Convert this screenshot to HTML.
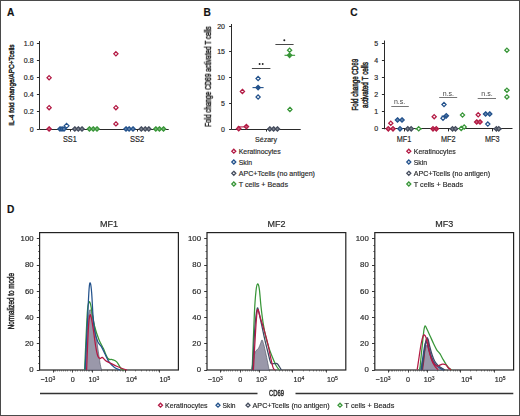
<!DOCTYPE html>
<html><head><meta charset="utf-8"><style>
html,body{margin:0;padding:0;background:#fff;}
svg{display:block;font-family:"Liberation Sans", sans-serif;filter:blur(0.35px);}
text{stroke:#2a2a2a;stroke-width:0.18px;}
text.yl{stroke-width:0.5px;}
</style></head><body>
<svg width="520" height="416" viewBox="0 0 520 416">
<rect x="0.5" y="0.5" width="519" height="415" fill="#fff" stroke="#4a4a4a" stroke-width="1"/>
<text x="7" y="16.1" font-size="10.2" text-anchor="start" fill="#111" font-weight="bold" >A</text>
<text x="203.6" y="16.1" font-size="10.2" text-anchor="start" fill="#111" font-weight="bold" >B</text>
<text x="350.3" y="16.1" font-size="10.2" text-anchor="start" fill="#111" font-weight="bold" >C</text>
<text x="7" y="213.0" font-size="10.2" text-anchor="start" fill="#111" font-weight="bold" >D</text>
<line x1="39.5" y1="41" x2="39.5" y2="129.5" stroke="#2a2a2a" stroke-width="1"/>
<line x1="39.5" y1="129.5" x2="168.7" y2="129.5" stroke="#2a2a2a" stroke-width="1"/>
<line x1="36.9" y1="129.5" x2="39.5" y2="129.5" stroke="#2a2a2a" stroke-width="1"/>
<text x="33.6" y="131.5" font-size="7" text-anchor="end" fill="#2a2a2a" font-weight="normal" >0</text>
<line x1="36.9" y1="111.5" x2="39.5" y2="111.5" stroke="#2a2a2a" stroke-width="1"/>
<text x="33.6" y="114.42" font-size="7" text-anchor="end" fill="#2a2a2a" font-weight="normal" >0.2</text>
<line x1="36.9" y1="94.5" x2="39.5" y2="94.5" stroke="#2a2a2a" stroke-width="1"/>
<text x="33.6" y="97.34" font-size="7" text-anchor="end" fill="#2a2a2a" font-weight="normal" >0.4</text>
<line x1="36.9" y1="77.5" x2="39.5" y2="77.5" stroke="#2a2a2a" stroke-width="1"/>
<text x="33.6" y="80.25999999999999" font-size="7" text-anchor="end" fill="#2a2a2a" font-weight="normal" >0.6</text>
<line x1="36.9" y1="60.5" x2="39.5" y2="60.5" stroke="#2a2a2a" stroke-width="1"/>
<text x="33.6" y="63.17999999999999" font-size="7" text-anchor="end" fill="#2a2a2a" font-weight="normal" >0.8</text>
<line x1="36.9" y1="43.5" x2="39.5" y2="43.5" stroke="#2a2a2a" stroke-width="1"/>
<text x="33.6" y="46.099999999999994" font-size="7" text-anchor="end" fill="#2a2a2a" font-weight="normal" >1.0</text>
<line x1="70.5" y1="129" x2="70.5" y2="131.5" stroke="#2a2a2a" stroke-width="1"/>
<line x1="137.5" y1="129" x2="137.5" y2="131.5" stroke="#2a2a2a" stroke-width="1"/>
<text x="69.8" y="141.9" font-size="8.2" text-anchor="middle" fill="#2a2a2a" font-weight="normal" textLength="13.8" lengthAdjust="spacingAndGlyphs">SS1</text>
<text x="137.2" y="141.9" font-size="8.2" text-anchor="middle" fill="#2a2a2a" font-weight="normal" textLength="14.2" lengthAdjust="spacingAndGlyphs">SS2</text>
<text transform="translate(13.9,85.1) rotate(-90)" class="yl" x="0" y="0" font-size="7.9" text-anchor="middle" fill="#2a2a2a" textLength="81.2" lengthAdjust="spacingAndGlyphs">IL-4 fold change/APC+Tcells</text>
<path d="M49.10 75.66L51.20 77.76L49.10 79.86L47.00 77.76Z" fill="#fff" stroke="#b31a44" stroke-width="1.25"/>
<path d="M49.10 105.55L51.20 107.65L49.10 109.75L47.00 107.65Z" fill="#fff" stroke="#b31a44" stroke-width="1.25"/>
<path d="M49.10 126.80L51.30 129.00L49.10 131.20L46.90 129.00Z" fill="#c95e7c" stroke="#b31a44" stroke-width="1.25"/>
<path d="M60.00 126.80L62.20 129.00L60.00 131.20L57.80 129.00Z" fill="#6585ae" stroke="#23528c" stroke-width="1.25"/>
<path d="M62.00 126.80L64.20 129.00L62.00 131.20L59.80 129.00Z" fill="#6585ae" stroke="#23528c" stroke-width="1.25"/>
<path d="M64.00 126.80L66.20 129.00L64.00 131.20L61.80 129.00Z" fill="#6585ae" stroke="#23528c" stroke-width="1.25"/>
<path d="M66.60 123.40L69.00 125.80L66.60 128.20L64.20 125.80Z" fill="#fff" stroke="#23528c" stroke-width="1.2"/>
<path d="M74.80 126.80L77.00 129.00L74.80 131.20L72.60 129.00Z" fill="#7c828e" stroke="#454d5e" stroke-width="1.25"/>
<path d="M78.30 126.80L80.50 129.00L78.30 131.20L76.10 129.00Z" fill="#7c828e" stroke="#454d5e" stroke-width="1.25"/>
<path d="M82.00 126.80L84.20 129.00L82.00 131.20L79.80 129.00Z" fill="#7c828e" stroke="#454d5e" stroke-width="1.25"/>
<path d="M89.40 126.80L91.60 129.00L89.40 131.20L87.20 129.00Z" fill="#73b573" stroke="#389638" stroke-width="1.25"/>
<path d="M93.20 126.80L95.40 129.00L93.20 131.20L91.00 129.00Z" fill="#73b573" stroke="#389638" stroke-width="1.25"/>
<path d="M97.00 126.80L99.20 129.00L97.00 131.20L94.80 129.00Z" fill="#73b573" stroke="#389638" stroke-width="1.25"/>
<path d="M115.90 51.75L118.00 53.85L115.90 55.95L113.80 53.85Z" fill="#fff" stroke="#b31a44" stroke-width="1.25"/>
<path d="M115.90 105.55L118.00 107.65L115.90 109.75L113.80 107.65Z" fill="#fff" stroke="#b31a44" stroke-width="1.25"/>
<path d="M115.90 121.78L118.00 123.88L115.90 125.98L113.80 123.88Z" fill="#fff" stroke="#b31a44" stroke-width="1.25"/>
<path d="M126.00 126.80L128.20 129.00L126.00 131.20L123.80 129.00Z" fill="#6585ae" stroke="#23528c" stroke-width="1.25"/>
<path d="M129.10 126.80L131.30 129.00L129.10 131.20L126.90 129.00Z" fill="#6585ae" stroke="#23528c" stroke-width="1.25"/>
<path d="M133.00 126.80L135.20 129.00L133.00 131.20L130.80 129.00Z" fill="#6585ae" stroke="#23528c" stroke-width="1.25"/>
<path d="M141.30 126.80L143.50 129.00L141.30 131.20L139.10 129.00Z" fill="#7c828e" stroke="#454d5e" stroke-width="1.25"/>
<path d="M145.20 126.80L147.40 129.00L145.20 131.20L143.00 129.00Z" fill="#7c828e" stroke="#454d5e" stroke-width="1.25"/>
<path d="M148.80 126.80L151.00 129.00L148.80 131.20L146.60 129.00Z" fill="#7c828e" stroke="#454d5e" stroke-width="1.25"/>
<path d="M155.80 126.80L158.00 129.00L155.80 131.20L153.60 129.00Z" fill="#73b573" stroke="#389638" stroke-width="1.25"/>
<path d="M159.40 126.80L161.60 129.00L159.40 131.20L157.20 129.00Z" fill="#73b573" stroke="#389638" stroke-width="1.25"/>
<path d="M163.50 126.80L165.70 129.00L163.50 131.20L161.30 129.00Z" fill="#73b573" stroke="#389638" stroke-width="1.25"/>
<line x1="231.5" y1="24" x2="231.5" y2="129.5" stroke="#2a2a2a" stroke-width="1"/>
<line x1="231.7" y1="129.5" x2="300.7" y2="129.5" stroke="#2a2a2a" stroke-width="1"/>
<line x1="229.1" y1="129.5" x2="231.7" y2="129.5" stroke="#2a2a2a" stroke-width="1"/>
<text x="225.0" y="131.5" font-size="7" text-anchor="end" fill="#2a2a2a" font-weight="normal" >0</text>
<line x1="229.1" y1="103.5" x2="231.7" y2="103.5" stroke="#2a2a2a" stroke-width="1"/>
<text x="225.0" y="105.75" font-size="7" text-anchor="end" fill="#2a2a2a" font-weight="normal" >5</text>
<line x1="229.1" y1="77.5" x2="231.7" y2="77.5" stroke="#2a2a2a" stroke-width="1"/>
<text x="225.0" y="80.0" font-size="7" text-anchor="end" fill="#2a2a2a" font-weight="normal" >10</text>
<line x1="229.1" y1="51.5" x2="231.7" y2="51.5" stroke="#2a2a2a" stroke-width="1"/>
<text x="225.0" y="54.25" font-size="7" text-anchor="end" fill="#2a2a2a" font-weight="normal" >15</text>
<line x1="229.1" y1="26.5" x2="231.7" y2="26.5" stroke="#2a2a2a" stroke-width="1"/>
<text x="225.0" y="28.5" font-size="7" text-anchor="end" fill="#2a2a2a" font-weight="normal" >20</text>
<line x1="266.5" y1="129" x2="266.5" y2="131.6" stroke="#2a2a2a" stroke-width="1"/>
<text x="266" y="141.6" font-size="7" text-anchor="middle" fill="#2a2a2a" font-weight="normal" >Sézary</text>
<text transform="translate(211.0,76.6) rotate(-90)" class="yl" x="0" y="0" font-size="8.4" text-anchor="middle" fill="#2a2a2a" textLength="100.4" lengthAdjust="spacingAndGlyphs">Fold change CD69 activated T cells</text>
<line x1="237.6" y1="126.9" x2="247.6" y2="126.9" stroke="#b31a44" stroke-width="1.1"/>
<path d="M242.40 89.30L244.50 91.40L242.40 93.50L240.30 91.40Z" fill="#fff" stroke="#b31a44" stroke-width="1.25"/>
<path d="M238.70 126.50L240.90 128.70L238.70 130.90L236.50 128.70Z" fill="#c95e7c" stroke="#b31a44" stroke-width="1.25"/>
<path d="M246.40 124.40L248.60 126.60L246.40 128.80L244.20 126.60Z" fill="#c95e7c" stroke="#b31a44" stroke-width="1.25"/>
<path d="M258.10 76.40L260.20 78.50L258.10 80.60L256.00 78.50Z" fill="#fff" stroke="#23528c" stroke-width="1.25"/>
<path d="M258.10 94.90L260.20 97.00L258.10 99.10L256.00 97.00Z" fill="#fff" stroke="#23528c" stroke-width="1.25"/>
<line x1="252.5" y1="87.6" x2="263.6" y2="87.6" stroke="#23528c" stroke-width="1.1"/>
<path d="M258.10 85.40L260.30 87.60L258.10 89.80L255.90 87.60Z" fill="#23528c" stroke="#23528c" stroke-width="1.25"/>
<path d="M269.80 126.80L272.00 129.00L269.80 131.20L267.60 129.00Z" fill="#7c828e" stroke="#454d5e" stroke-width="1.25"/>
<path d="M273.60 126.80L275.80 129.00L273.60 131.20L271.40 129.00Z" fill="#7c828e" stroke="#454d5e" stroke-width="1.25"/>
<path d="M277.40 126.80L279.60 129.00L277.40 131.20L275.20 129.00Z" fill="#7c828e" stroke="#454d5e" stroke-width="1.25"/>
<path d="M289.60 48.10L291.70 50.20L289.60 52.30L287.50 50.20Z" fill="#fff" stroke="#389638" stroke-width="1.25"/>
<path d="M289.90 107.30L292.00 109.40L289.90 111.50L287.80 109.40Z" fill="#fff" stroke="#389638" stroke-width="1.25"/>
<line x1="284.5" y1="55.3" x2="295.1" y2="55.3" stroke="#389638" stroke-width="1.1"/>
<path d="M289.60 53.10L291.80 55.30L289.60 57.50L287.40 55.30Z" fill="#389638" stroke="#389638" stroke-width="1.25"/>
<line x1="251.9" y1="68.5" x2="270.4" y2="68.5" stroke="#333" stroke-width="0.9"/>
<circle cx="259.6" cy="64" r="0.95" fill="#222"/><circle cx="262.7" cy="64" r="0.95" fill="#222"/>
<line x1="275.4" y1="44.5" x2="293.6" y2="44.5" stroke="#333" stroke-width="0.9"/>
<circle cx="284.3" cy="40.3" r="1.0" fill="#222"/>
<path d="M233.80 149.20L235.80 151.20L233.80 153.20L231.80 151.20Z" fill="#fff" stroke="#b31a44" stroke-width="1.3"/>
<text x="238.7" y="153.79999999999998" font-size="7.6" text-anchor="start" fill="#2a2a2a" font-weight="normal" textLength="42" lengthAdjust="spacingAndGlyphs">Keratinocytes</text>
<path d="M233.80 160.00L235.80 162.00L233.80 164.00L231.80 162.00Z" fill="#fff" stroke="#23528c" stroke-width="1.3"/>
<text x="238.7" y="164.6" font-size="7.6" text-anchor="start" fill="#2a2a2a" font-weight="normal" textLength="13.3" lengthAdjust="spacingAndGlyphs">Skin</text>
<path d="M233.80 171.30L235.80 173.30L233.80 175.30L231.80 173.30Z" fill="#fff" stroke="#454d5e" stroke-width="1.3"/>
<text x="238.7" y="175.9" font-size="7.6" text-anchor="start" fill="#2a2a2a" font-weight="normal" textLength="76.3" lengthAdjust="spacingAndGlyphs">APC+Tcells (no antigen)</text>
<path d="M233.80 182.00L235.80 184.00L233.80 186.00L231.80 184.00Z" fill="#fff" stroke="#389638" stroke-width="1.3"/>
<text x="238.7" y="186.6" font-size="7.6" text-anchor="start" fill="#2a2a2a" font-weight="normal" textLength="49.3" lengthAdjust="spacingAndGlyphs">T cells + Beads</text>
<line x1="384.5" y1="40.5" x2="384.5" y2="129.3" stroke="#2a2a2a" stroke-width="1"/>
<line x1="384.5" y1="128.5" x2="512.5" y2="128.5" stroke="#2a2a2a" stroke-width="1"/>
<line x1="381.9" y1="128.5" x2="384.5" y2="128.5" stroke="#2a2a2a" stroke-width="1"/>
<text x="378.2" y="131.3" font-size="7" text-anchor="end" fill="#2a2a2a" font-weight="normal" >0</text>
<line x1="381.9" y1="111.5" x2="384.5" y2="111.5" stroke="#2a2a2a" stroke-width="1"/>
<text x="378.2" y="114.32000000000001" font-size="7" text-anchor="end" fill="#2a2a2a" font-weight="normal" >1</text>
<line x1="381.9" y1="94.5" x2="384.5" y2="94.5" stroke="#2a2a2a" stroke-width="1"/>
<text x="378.2" y="97.34" font-size="7" text-anchor="end" fill="#2a2a2a" font-weight="normal" >2</text>
<line x1="381.9" y1="77.5" x2="384.5" y2="77.5" stroke="#2a2a2a" stroke-width="1"/>
<text x="378.2" y="80.36000000000001" font-size="7" text-anchor="end" fill="#2a2a2a" font-weight="normal" >3</text>
<line x1="381.9" y1="60.5" x2="384.5" y2="60.5" stroke="#2a2a2a" stroke-width="1"/>
<text x="378.2" y="63.38000000000001" font-size="7" text-anchor="end" fill="#2a2a2a" font-weight="normal" >4</text>
<line x1="381.9" y1="43.5" x2="384.5" y2="43.5" stroke="#2a2a2a" stroke-width="1"/>
<text x="378.2" y="46.400000000000006" font-size="7" text-anchor="end" fill="#2a2a2a" font-weight="normal" >5</text>
<line x1="404.5" y1="128.8" x2="404.5" y2="131.4" stroke="#2a2a2a" stroke-width="1"/>
<text x="404.0" y="141.9" font-size="8.2" text-anchor="middle" fill="#2a2a2a" font-weight="normal" textLength="14.6" lengthAdjust="spacingAndGlyphs">MF1</text>
<line x1="448.5" y1="128.8" x2="448.5" y2="131.4" stroke="#2a2a2a" stroke-width="1"/>
<text x="448.20000000000005" y="141.9" font-size="8.2" text-anchor="middle" fill="#2a2a2a" font-weight="normal" textLength="14.6" lengthAdjust="spacingAndGlyphs">MF2</text>
<line x1="492.5" y1="128.8" x2="492.5" y2="131.4" stroke="#2a2a2a" stroke-width="1"/>
<text x="492.3" y="141.9" font-size="8.2" text-anchor="middle" fill="#2a2a2a" font-weight="normal" textLength="14.6" lengthAdjust="spacingAndGlyphs">MF3</text>
<text transform="translate(357.8,84.7) rotate(-90)" class="yl" font-size="8.2" text-anchor="middle" fill="#2a2a2a" textLength="51.8" lengthAdjust="spacingAndGlyphs">Fold change CD69</text>
<text transform="translate(368.0,84.95) rotate(-90)" class="yl" font-size="8.2" text-anchor="middle" fill="#2a2a2a" textLength="45.9" lengthAdjust="spacingAndGlyphs">activated T cells</text>
<line x1="391.3" y1="106.5" x2="408.8" y2="106.5" stroke="#666" stroke-width="0.9"/>
<text x="399.6" y="103.8" font-size="7" text-anchor="middle" fill="#444" font-weight="normal" style="stroke:none">n.s.</text>
<line x1="439.2" y1="97.5" x2="457.2" y2="97.5" stroke="#666" stroke-width="0.9"/>
<text x="448.4" y="95.6" font-size="7" text-anchor="middle" fill="#444" font-weight="normal" style="stroke:none">n.s.</text>
<line x1="477.7" y1="98.5" x2="496" y2="98.5" stroke="#666" stroke-width="0.9"/>
<text x="487" y="96.39999999999999" font-size="7" text-anchor="middle" fill="#444" font-weight="normal" style="stroke:none">n.s.</text>
<path d="M390.80 121.10L392.90 123.20L390.80 125.30L388.70 123.20Z" fill="#fff" stroke="#b31a44" stroke-width="1.25"/>
<line x1="387.5" y1="128.8" x2="394" y2="128.8" stroke="#b31a44" stroke-width="1.2"/>
<path d="M388.30 126.60L390.50 128.80L388.30 131.00L386.10 128.80Z" fill="#c95e7c" stroke="#b31a44" stroke-width="1.25"/>
<path d="M393.00 126.60L395.20 128.80L393.00 131.00L390.80 128.80Z" fill="#c95e7c" stroke="#b31a44" stroke-width="1.25"/>
<line x1="396.5" y1="120" x2="403" y2="120" stroke="#23528c" stroke-width="1.1"/>
<path d="M397.50 117.80L399.70 120.00L397.50 122.20L395.30 120.00Z" fill="#6585ae" stroke="#23528c" stroke-width="1.25"/>
<path d="M402.00 117.80L404.20 120.00L402.00 122.20L399.80 120.00Z" fill="#6585ae" stroke="#23528c" stroke-width="1.25"/>
<path d="M400.00 126.60L402.20 128.80L400.00 131.00L397.80 128.80Z" fill="#6585ae" stroke="#23528c" stroke-width="1.25"/>
<line x1="405" y1="128.8" x2="413" y2="128.8" stroke="#454d5e" stroke-width="1.6"/>
<path d="M407.80 126.60L410.00 128.80L407.80 131.00L405.60 128.80Z" fill="#7c828e" stroke="#454d5e" stroke-width="1.25"/>
<path d="M411.20 126.60L413.40 128.80L411.20 131.00L409.00 128.80Z" fill="#7c828e" stroke="#454d5e" stroke-width="1.25"/>
<line x1="415" y1="128.8" x2="422" y2="128.8" stroke="#389638" stroke-width="1.2"/>
<path d="M418.70 126.70L420.80 128.80L418.70 130.90L416.60 128.80Z" fill="#fff" stroke="#389638" stroke-width="1.25"/>
<path d="M434.20 114.60L436.30 116.70L434.20 118.80L432.10 116.70Z" fill="#fff" stroke="#b31a44" stroke-width="1.25"/>
<path d="M433.00 126.60L435.20 128.80L433.00 131.00L430.80 128.80Z" fill="#c95e7c" stroke="#b31a44" stroke-width="1.25"/>
<path d="M436.30 126.60L438.50 128.80L436.30 131.00L434.10 128.80Z" fill="#c95e7c" stroke="#b31a44" stroke-width="1.25"/>
<line x1="431.5" y1="128.8" x2="438" y2="128.8" stroke="#b31a44" stroke-width="1.2"/>
<path d="M444.00 102.40L446.10 104.50L444.00 106.60L441.90 104.50Z" fill="#fff" stroke="#23528c" stroke-width="1.25"/>
<path d="M443.00 116.10L445.10 118.20L443.00 120.30L440.90 118.20Z" fill="#fff" stroke="#23528c" stroke-width="1.25"/>
<path d="M446.30 113.60L448.50 115.80L446.30 118.00L444.10 115.80Z" fill="#6585ae" stroke="#23528c" stroke-width="1.25"/>
<line x1="441.5" y1="116.2" x2="448" y2="116.2" stroke="#23528c" stroke-width="1.1"/>
<line x1="449.5" y1="128.8" x2="458" y2="128.8" stroke="#454d5e" stroke-width="1.6"/>
<path d="M452.50 126.60L454.70 128.80L452.50 131.00L450.30 128.80Z" fill="#7c828e" stroke="#454d5e" stroke-width="1.25"/>
<path d="M455.50 126.60L457.70 128.80L455.50 131.00L453.30 128.80Z" fill="#7c828e" stroke="#454d5e" stroke-width="1.25"/>
<path d="M462.50 112.90L464.60 115.00L462.50 117.10L460.40 115.00Z" fill="#fff" stroke="#389638" stroke-width="1.25"/>
<path d="M461.20 126.30L463.30 128.40L461.20 130.50L459.10 128.40Z" fill="#fff" stroke="#389638" stroke-width="1.25"/>
<path d="M464.20 124.90L466.30 127.00L464.20 129.10L462.10 127.00Z" fill="#fff" stroke="#389638" stroke-width="1.25"/>
<path d="M478.20 112.70L480.30 114.80L478.20 116.90L476.10 114.80Z" fill="#fff" stroke="#b31a44" stroke-width="1.25"/>
<line x1="475" y1="122" x2="482" y2="122" stroke="#b31a44" stroke-width="1.1"/>
<path d="M476.70 119.80L478.90 122.00L476.70 124.20L474.50 122.00Z" fill="#c95e7c" stroke="#b31a44" stroke-width="1.25"/>
<path d="M480.00 119.80L482.20 122.00L480.00 124.20L477.80 122.00Z" fill="#c95e7c" stroke="#b31a44" stroke-width="1.25"/>
<line x1="483.5" y1="114" x2="492" y2="114" stroke="#23528c" stroke-width="1.1"/>
<path d="M485.60 111.80L487.80 114.00L485.60 116.20L483.40 114.00Z" fill="#6585ae" stroke="#23528c" stroke-width="1.25"/>
<path d="M489.70 111.80L491.90 114.00L489.70 116.20L487.50 114.00Z" fill="#6585ae" stroke="#23528c" stroke-width="1.25"/>
<path d="M487.80 122.00L489.90 124.10L487.80 126.20L485.70 124.10Z" fill="#fff" stroke="#23528c" stroke-width="1.25"/>
<line x1="493.5" y1="128.8" x2="501.5" y2="128.8" stroke="#454d5e" stroke-width="1.6"/>
<path d="M496.40 126.60L498.60 128.80L496.40 131.00L494.20 128.80Z" fill="#7c828e" stroke="#454d5e" stroke-width="1.25"/>
<path d="M498.80 126.60L501.00 128.80L498.80 131.00L496.60 128.80Z" fill="#7c828e" stroke="#454d5e" stroke-width="1.25"/>
<path d="M506.90 48.10L509.00 50.20L506.90 52.30L504.80 50.20Z" fill="#fff" stroke="#389638" stroke-width="1.25"/>
<path d="M506.90 94.80L509.00 96.90L506.90 99.00L504.80 96.90Z" fill="#fff" stroke="#389638" stroke-width="1.25"/>
<line x1="504" y1="90.2" x2="509.4" y2="90.2" stroke="#389638" stroke-width="1.1"/>
<path d="M506.90 88.10L509.00 90.20L506.90 92.30L504.80 90.20Z" fill="#fff" stroke="#389638" stroke-width="1.25"/>
<path d="M408.80 149.20L410.80 151.20L408.80 153.20L406.80 151.20Z" fill="#fff" stroke="#b31a44" stroke-width="1.3"/>
<text x="413.8" y="153.79999999999998" font-size="7.6" text-anchor="start" fill="#2a2a2a" font-weight="normal" textLength="42" lengthAdjust="spacingAndGlyphs">Keratinocytes</text>
<path d="M408.80 160.00L410.80 162.00L408.80 164.00L406.80 162.00Z" fill="#fff" stroke="#23528c" stroke-width="1.3"/>
<text x="413.8" y="164.6" font-size="7.6" text-anchor="start" fill="#2a2a2a" font-weight="normal" textLength="13.3" lengthAdjust="spacingAndGlyphs">Skin</text>
<path d="M408.80 171.30L410.80 173.30L408.80 175.30L406.80 173.30Z" fill="#fff" stroke="#454d5e" stroke-width="1.3"/>
<text x="413.8" y="175.9" font-size="7.6" text-anchor="start" fill="#2a2a2a" font-weight="normal" textLength="76.3" lengthAdjust="spacingAndGlyphs">APC+Tcells (no antigen)</text>
<path d="M408.80 182.00L410.80 184.00L408.80 186.00L406.80 184.00Z" fill="#fff" stroke="#389638" stroke-width="1.3"/>
<text x="413.8" y="186.6" font-size="7.6" text-anchor="start" fill="#2a2a2a" font-weight="normal" textLength="49.3" lengthAdjust="spacingAndGlyphs">T cells + Beads</text>
<rect x="39.6" y="232.6" width="138.8" height="137.4" fill="none" stroke="#222" stroke-width="1.2"/>
<text x="109.0" y="226.6" font-size="9" text-anchor="middle" fill="#2a2a2a" font-weight="normal" >MF1</text>
<line x1="36.800000000000004" y1="370.5" x2="39.6" y2="370.5" stroke="#222" stroke-width="0.9"/>
<text x="33.6" y="372.4" font-size="7.8" text-anchor="end" fill="#2a2a2a" font-weight="normal" >0</text>
<line x1="36.800000000000004" y1="343.5" x2="39.6" y2="343.5" stroke="#222" stroke-width="0.9"/>
<text x="33.6" y="346.15999999999997" font-size="7.8" text-anchor="end" fill="#2a2a2a" font-weight="normal" >20</text>
<line x1="36.800000000000004" y1="317.5" x2="39.6" y2="317.5" stroke="#222" stroke-width="0.9"/>
<text x="33.6" y="319.91999999999996" font-size="7.8" text-anchor="end" fill="#2a2a2a" font-weight="normal" >40</text>
<line x1="36.800000000000004" y1="291.5" x2="39.6" y2="291.5" stroke="#222" stroke-width="0.9"/>
<text x="33.6" y="293.68" font-size="7.8" text-anchor="end" fill="#2a2a2a" font-weight="normal" >60</text>
<line x1="36.800000000000004" y1="265.5" x2="39.6" y2="265.5" stroke="#222" stroke-width="0.9"/>
<text x="33.6" y="267.44" font-size="7.8" text-anchor="end" fill="#2a2a2a" font-weight="normal" >80</text>
<line x1="36.800000000000004" y1="238.5" x2="39.6" y2="238.5" stroke="#222" stroke-width="0.9"/>
<text x="33.6" y="241.20000000000002" font-size="7.8" text-anchor="end" fill="#2a2a2a" font-weight="normal" >100</text>
<line x1="38.0" y1="363.5" x2="39.6" y2="363.5" stroke="#222" stroke-width="0.6"/>
<line x1="38.0" y1="356.5" x2="39.6" y2="356.5" stroke="#222" stroke-width="0.6"/>
<line x1="38.0" y1="350.5" x2="39.6" y2="350.5" stroke="#222" stroke-width="0.6"/>
<line x1="38.0" y1="337.5" x2="39.6" y2="337.5" stroke="#222" stroke-width="0.6"/>
<line x1="38.0" y1="330.5" x2="39.6" y2="330.5" stroke="#222" stroke-width="0.6"/>
<line x1="38.0" y1="324.5" x2="39.6" y2="324.5" stroke="#222" stroke-width="0.6"/>
<line x1="38.0" y1="310.5" x2="39.6" y2="310.5" stroke="#222" stroke-width="0.6"/>
<line x1="38.0" y1="304.5" x2="39.6" y2="304.5" stroke="#222" stroke-width="0.6"/>
<line x1="38.0" y1="297.5" x2="39.6" y2="297.5" stroke="#222" stroke-width="0.6"/>
<line x1="38.0" y1="284.5" x2="39.6" y2="284.5" stroke="#222" stroke-width="0.6"/>
<line x1="38.0" y1="278.5" x2="39.6" y2="278.5" stroke="#222" stroke-width="0.6"/>
<line x1="38.0" y1="271.5" x2="39.6" y2="271.5" stroke="#222" stroke-width="0.6"/>
<line x1="38.0" y1="258.5" x2="39.6" y2="258.5" stroke="#222" stroke-width="0.6"/>
<line x1="38.0" y1="251.5" x2="39.6" y2="251.5" stroke="#222" stroke-width="0.6"/>
<line x1="38.0" y1="245.5" x2="39.6" y2="245.5" stroke="#222" stroke-width="0.6"/>
<text x="40.4" y="382.3" font-size="7.2" fill="#2a2a2a">−10<tspan font-size="5" dy="-2.6">3</tspan></text>
<text x="72.80000000000001" y="382.3" font-size="7.2" text-anchor="middle" fill="#2a2a2a" font-weight="normal" >0</text>
<text x="88.6" y="382.3" font-size="7.2" fill="#2a2a2a">10<tspan font-size="5" dy="-2.6">3</tspan></text>
<text x="126.1" y="382.3" font-size="7.2" fill="#2a2a2a">10<tspan font-size="5" dy="-2.6">4</tspan></text>
<text x="159.6" y="382.3" font-size="7.2" fill="#2a2a2a">10<tspan font-size="5" dy="-2.6">5</tspan></text>
<line x1="53.5" y1="370" x2="53.5" y2="372.6" stroke="#222" stroke-width="0.8"/>
<line x1="72.5" y1="370" x2="72.5" y2="372.6" stroke="#222" stroke-width="0.8"/>
<line x1="92.5" y1="370" x2="92.5" y2="372.6" stroke="#222" stroke-width="0.8"/>
<line x1="125.5" y1="370" x2="125.5" y2="372.6" stroke="#222" stroke-width="0.8"/>
<line x1="159.5" y1="370" x2="159.5" y2="372.6" stroke="#222" stroke-width="0.8"/>
<line x1="75.5" y1="370" x2="75.5" y2="371.5" stroke="#333" stroke-width="0.5"/>
<line x1="77.5" y1="370" x2="77.5" y2="371.5" stroke="#333" stroke-width="0.5"/>
<line x1="80.5" y1="370" x2="80.5" y2="371.5" stroke="#333" stroke-width="0.5"/>
<line x1="82.5" y1="370" x2="82.5" y2="371.5" stroke="#333" stroke-width="0.5"/>
<line x1="84.5" y1="370" x2="84.5" y2="371.5" stroke="#333" stroke-width="0.5"/>
<line x1="86.5" y1="370" x2="86.5" y2="371.5" stroke="#333" stroke-width="0.5"/>
<line x1="88.5" y1="370" x2="88.5" y2="371.5" stroke="#333" stroke-width="0.5"/>
<line x1="89.5" y1="370" x2="89.5" y2="371.5" stroke="#333" stroke-width="0.5"/>
<line x1="91.5" y1="370" x2="91.5" y2="371.5" stroke="#333" stroke-width="0.5"/>
<line x1="92.5" y1="370" x2="92.5" y2="371.5" stroke="#333" stroke-width="0.5"/>
<line x1="101.5" y1="370" x2="101.5" y2="371.5" stroke="#333" stroke-width="0.5"/>
<line x1="107.5" y1="370" x2="107.5" y2="371.5" stroke="#333" stroke-width="0.5"/>
<line x1="112.5" y1="370" x2="112.5" y2="371.5" stroke="#333" stroke-width="0.5"/>
<line x1="115.5" y1="370" x2="115.5" y2="371.5" stroke="#333" stroke-width="0.5"/>
<line x1="117.5" y1="370" x2="117.5" y2="371.5" stroke="#333" stroke-width="0.5"/>
<line x1="120.5" y1="370" x2="120.5" y2="371.5" stroke="#333" stroke-width="0.5"/>
<line x1="122.5" y1="370" x2="122.5" y2="371.5" stroke="#333" stroke-width="0.5"/>
<line x1="123.5" y1="370" x2="123.5" y2="371.5" stroke="#333" stroke-width="0.5"/>
<line x1="125.5" y1="370" x2="125.5" y2="371.5" stroke="#333" stroke-width="0.5"/>
<line x1="135.5" y1="370" x2="135.5" y2="371.5" stroke="#333" stroke-width="0.5"/>
<line x1="141.5" y1="370" x2="141.5" y2="371.5" stroke="#333" stroke-width="0.5"/>
<line x1="146.5" y1="370" x2="146.5" y2="371.5" stroke="#333" stroke-width="0.5"/>
<line x1="149.5" y1="370" x2="149.5" y2="371.5" stroke="#333" stroke-width="0.5"/>
<line x1="152.5" y1="370" x2="152.5" y2="371.5" stroke="#333" stroke-width="0.5"/>
<line x1="154.5" y1="370" x2="154.5" y2="371.5" stroke="#333" stroke-width="0.5"/>
<line x1="156.5" y1="370" x2="156.5" y2="371.5" stroke="#333" stroke-width="0.5"/>
<line x1="158.5" y1="370" x2="158.5" y2="371.5" stroke="#333" stroke-width="0.5"/>
<line x1="70.5" y1="370" x2="70.5" y2="371.5" stroke="#333" stroke-width="0.5"/>
<line x1="67.5" y1="370" x2="67.5" y2="371.5" stroke="#333" stroke-width="0.5"/>
<line x1="65.5" y1="370" x2="65.5" y2="371.5" stroke="#333" stroke-width="0.5"/>
<line x1="63.5" y1="370" x2="63.5" y2="371.5" stroke="#333" stroke-width="0.5"/>
<line x1="61.5" y1="370" x2="61.5" y2="371.5" stroke="#333" stroke-width="0.5"/>
<line x1="59.5" y1="370" x2="59.5" y2="371.5" stroke="#333" stroke-width="0.5"/>
<line x1="57.5" y1="370" x2="57.5" y2="371.5" stroke="#333" stroke-width="0.5"/>
<line x1="55.5" y1="370" x2="55.5" y2="371.5" stroke="#333" stroke-width="0.5"/>
<line x1="54.5" y1="370" x2="54.5" y2="371.5" stroke="#333" stroke-width="0.5"/>
<line x1="53.5" y1="370" x2="53.5" y2="371.5" stroke="#333" stroke-width="0.5"/>
<rect x="207.0" y="232.6" width="138.8" height="137.4" fill="none" stroke="#222" stroke-width="1.2"/>
<text x="276.4" y="226.6" font-size="9" text-anchor="middle" fill="#2a2a2a" font-weight="normal" >MF2</text>
<line x1="204.2" y1="370.5" x2="207.0" y2="370.5" stroke="#222" stroke-width="0.9"/>
<text x="201.0" y="372.4" font-size="7.8" text-anchor="end" fill="#2a2a2a" font-weight="normal" >0</text>
<line x1="204.2" y1="343.5" x2="207.0" y2="343.5" stroke="#222" stroke-width="0.9"/>
<text x="201.0" y="346.15999999999997" font-size="7.8" text-anchor="end" fill="#2a2a2a" font-weight="normal" >20</text>
<line x1="204.2" y1="317.5" x2="207.0" y2="317.5" stroke="#222" stroke-width="0.9"/>
<text x="201.0" y="319.91999999999996" font-size="7.8" text-anchor="end" fill="#2a2a2a" font-weight="normal" >40</text>
<line x1="204.2" y1="291.5" x2="207.0" y2="291.5" stroke="#222" stroke-width="0.9"/>
<text x="201.0" y="293.68" font-size="7.8" text-anchor="end" fill="#2a2a2a" font-weight="normal" >60</text>
<line x1="204.2" y1="265.5" x2="207.0" y2="265.5" stroke="#222" stroke-width="0.9"/>
<text x="201.0" y="267.44" font-size="7.8" text-anchor="end" fill="#2a2a2a" font-weight="normal" >80</text>
<line x1="204.2" y1="238.5" x2="207.0" y2="238.5" stroke="#222" stroke-width="0.9"/>
<text x="201.0" y="241.20000000000002" font-size="7.8" text-anchor="end" fill="#2a2a2a" font-weight="normal" >100</text>
<line x1="205.4" y1="363.5" x2="207.0" y2="363.5" stroke="#222" stroke-width="0.6"/>
<line x1="205.4" y1="356.5" x2="207.0" y2="356.5" stroke="#222" stroke-width="0.6"/>
<line x1="205.4" y1="350.5" x2="207.0" y2="350.5" stroke="#222" stroke-width="0.6"/>
<line x1="205.4" y1="337.5" x2="207.0" y2="337.5" stroke="#222" stroke-width="0.6"/>
<line x1="205.4" y1="330.5" x2="207.0" y2="330.5" stroke="#222" stroke-width="0.6"/>
<line x1="205.4" y1="324.5" x2="207.0" y2="324.5" stroke="#222" stroke-width="0.6"/>
<line x1="205.4" y1="310.5" x2="207.0" y2="310.5" stroke="#222" stroke-width="0.6"/>
<line x1="205.4" y1="304.5" x2="207.0" y2="304.5" stroke="#222" stroke-width="0.6"/>
<line x1="205.4" y1="297.5" x2="207.0" y2="297.5" stroke="#222" stroke-width="0.6"/>
<line x1="205.4" y1="284.5" x2="207.0" y2="284.5" stroke="#222" stroke-width="0.6"/>
<line x1="205.4" y1="278.5" x2="207.0" y2="278.5" stroke="#222" stroke-width="0.6"/>
<line x1="205.4" y1="271.5" x2="207.0" y2="271.5" stroke="#222" stroke-width="0.6"/>
<line x1="205.4" y1="258.5" x2="207.0" y2="258.5" stroke="#222" stroke-width="0.6"/>
<line x1="205.4" y1="251.5" x2="207.0" y2="251.5" stroke="#222" stroke-width="0.6"/>
<line x1="205.4" y1="245.5" x2="207.0" y2="245.5" stroke="#222" stroke-width="0.6"/>
<text x="207.8" y="382.3" font-size="7.2" fill="#2a2a2a">−10<tspan font-size="5" dy="-2.6">3</tspan></text>
<text x="240.2" y="382.3" font-size="7.2" text-anchor="middle" fill="#2a2a2a" font-weight="normal" >0</text>
<text x="256.0" y="382.3" font-size="7.2" fill="#2a2a2a">10<tspan font-size="5" dy="-2.6">3</tspan></text>
<text x="293.5" y="382.3" font-size="7.2" fill="#2a2a2a">10<tspan font-size="5" dy="-2.6">4</tspan></text>
<text x="327.0" y="382.3" font-size="7.2" fill="#2a2a2a">10<tspan font-size="5" dy="-2.6">5</tspan></text>
<line x1="220.5" y1="370" x2="220.5" y2="372.6" stroke="#222" stroke-width="0.8"/>
<line x1="240.5" y1="370" x2="240.5" y2="372.6" stroke="#222" stroke-width="0.8"/>
<line x1="259.5" y1="370" x2="259.5" y2="372.6" stroke="#222" stroke-width="0.8"/>
<line x1="292.5" y1="370" x2="292.5" y2="372.6" stroke="#222" stroke-width="0.8"/>
<line x1="326.5" y1="370" x2="326.5" y2="372.6" stroke="#222" stroke-width="0.8"/>
<line x1="242.5" y1="370" x2="242.5" y2="371.5" stroke="#333" stroke-width="0.5"/>
<line x1="245.5" y1="370" x2="245.5" y2="371.5" stroke="#333" stroke-width="0.5"/>
<line x1="247.5" y1="370" x2="247.5" y2="371.5" stroke="#333" stroke-width="0.5"/>
<line x1="249.5" y1="370" x2="249.5" y2="371.5" stroke="#333" stroke-width="0.5"/>
<line x1="251.5" y1="370" x2="251.5" y2="371.5" stroke="#333" stroke-width="0.5"/>
<line x1="253.5" y1="370" x2="253.5" y2="371.5" stroke="#333" stroke-width="0.5"/>
<line x1="255.5" y1="370" x2="255.5" y2="371.5" stroke="#333" stroke-width="0.5"/>
<line x1="257.5" y1="370" x2="257.5" y2="371.5" stroke="#333" stroke-width="0.5"/>
<line x1="258.5" y1="370" x2="258.5" y2="371.5" stroke="#333" stroke-width="0.5"/>
<line x1="259.5" y1="370" x2="259.5" y2="371.5" stroke="#333" stroke-width="0.5"/>
<line x1="269.5" y1="370" x2="269.5" y2="371.5" stroke="#333" stroke-width="0.5"/>
<line x1="275.5" y1="370" x2="275.5" y2="371.5" stroke="#333" stroke-width="0.5"/>
<line x1="279.5" y1="370" x2="279.5" y2="371.5" stroke="#333" stroke-width="0.5"/>
<line x1="282.5" y1="370" x2="282.5" y2="371.5" stroke="#333" stroke-width="0.5"/>
<line x1="285.5" y1="370" x2="285.5" y2="371.5" stroke="#333" stroke-width="0.5"/>
<line x1="287.5" y1="370" x2="287.5" y2="371.5" stroke="#333" stroke-width="0.5"/>
<line x1="289.5" y1="370" x2="289.5" y2="371.5" stroke="#333" stroke-width="0.5"/>
<line x1="291.5" y1="370" x2="291.5" y2="371.5" stroke="#333" stroke-width="0.5"/>
<line x1="292.5" y1="370" x2="292.5" y2="371.5" stroke="#333" stroke-width="0.5"/>
<line x1="303.5" y1="370" x2="303.5" y2="371.5" stroke="#333" stroke-width="0.5"/>
<line x1="309.5" y1="370" x2="309.5" y2="371.5" stroke="#333" stroke-width="0.5"/>
<line x1="313.5" y1="370" x2="313.5" y2="371.5" stroke="#333" stroke-width="0.5"/>
<line x1="316.5" y1="370" x2="316.5" y2="371.5" stroke="#333" stroke-width="0.5"/>
<line x1="319.5" y1="370" x2="319.5" y2="371.5" stroke="#333" stroke-width="0.5"/>
<line x1="321.5" y1="370" x2="321.5" y2="371.5" stroke="#333" stroke-width="0.5"/>
<line x1="323.5" y1="370" x2="323.5" y2="371.5" stroke="#333" stroke-width="0.5"/>
<line x1="325.5" y1="370" x2="325.5" y2="371.5" stroke="#333" stroke-width="0.5"/>
<line x1="237.5" y1="370" x2="237.5" y2="371.5" stroke="#333" stroke-width="0.5"/>
<line x1="235.5" y1="370" x2="235.5" y2="371.5" stroke="#333" stroke-width="0.5"/>
<line x1="232.5" y1="370" x2="232.5" y2="371.5" stroke="#333" stroke-width="0.5"/>
<line x1="230.5" y1="370" x2="230.5" y2="371.5" stroke="#333" stroke-width="0.5"/>
<line x1="228.5" y1="370" x2="228.5" y2="371.5" stroke="#333" stroke-width="0.5"/>
<line x1="226.5" y1="370" x2="226.5" y2="371.5" stroke="#333" stroke-width="0.5"/>
<line x1="224.5" y1="370" x2="224.5" y2="371.5" stroke="#333" stroke-width="0.5"/>
<line x1="223.5" y1="370" x2="223.5" y2="371.5" stroke="#333" stroke-width="0.5"/>
<line x1="221.5" y1="370" x2="221.5" y2="371.5" stroke="#333" stroke-width="0.5"/>
<line x1="220.5" y1="370" x2="220.5" y2="371.5" stroke="#333" stroke-width="0.5"/>
<rect x="374.8" y="232.6" width="138.8" height="137.4" fill="none" stroke="#222" stroke-width="1.2"/>
<text x="444.20000000000005" y="226.6" font-size="9" text-anchor="middle" fill="#2a2a2a" font-weight="normal" >MF3</text>
<line x1="372.0" y1="370.5" x2="374.8" y2="370.5" stroke="#222" stroke-width="0.9"/>
<text x="368.8" y="372.4" font-size="7.8" text-anchor="end" fill="#2a2a2a" font-weight="normal" >0</text>
<line x1="372.0" y1="343.5" x2="374.8" y2="343.5" stroke="#222" stroke-width="0.9"/>
<text x="368.8" y="346.15999999999997" font-size="7.8" text-anchor="end" fill="#2a2a2a" font-weight="normal" >20</text>
<line x1="372.0" y1="317.5" x2="374.8" y2="317.5" stroke="#222" stroke-width="0.9"/>
<text x="368.8" y="319.91999999999996" font-size="7.8" text-anchor="end" fill="#2a2a2a" font-weight="normal" >40</text>
<line x1="372.0" y1="291.5" x2="374.8" y2="291.5" stroke="#222" stroke-width="0.9"/>
<text x="368.8" y="293.68" font-size="7.8" text-anchor="end" fill="#2a2a2a" font-weight="normal" >60</text>
<line x1="372.0" y1="265.5" x2="374.8" y2="265.5" stroke="#222" stroke-width="0.9"/>
<text x="368.8" y="267.44" font-size="7.8" text-anchor="end" fill="#2a2a2a" font-weight="normal" >80</text>
<line x1="372.0" y1="238.5" x2="374.8" y2="238.5" stroke="#222" stroke-width="0.9"/>
<text x="368.8" y="241.20000000000002" font-size="7.8" text-anchor="end" fill="#2a2a2a" font-weight="normal" >100</text>
<line x1="373.2" y1="363.5" x2="374.8" y2="363.5" stroke="#222" stroke-width="0.6"/>
<line x1="373.2" y1="356.5" x2="374.8" y2="356.5" stroke="#222" stroke-width="0.6"/>
<line x1="373.2" y1="350.5" x2="374.8" y2="350.5" stroke="#222" stroke-width="0.6"/>
<line x1="373.2" y1="337.5" x2="374.8" y2="337.5" stroke="#222" stroke-width="0.6"/>
<line x1="373.2" y1="330.5" x2="374.8" y2="330.5" stroke="#222" stroke-width="0.6"/>
<line x1="373.2" y1="324.5" x2="374.8" y2="324.5" stroke="#222" stroke-width="0.6"/>
<line x1="373.2" y1="310.5" x2="374.8" y2="310.5" stroke="#222" stroke-width="0.6"/>
<line x1="373.2" y1="304.5" x2="374.8" y2="304.5" stroke="#222" stroke-width="0.6"/>
<line x1="373.2" y1="297.5" x2="374.8" y2="297.5" stroke="#222" stroke-width="0.6"/>
<line x1="373.2" y1="284.5" x2="374.8" y2="284.5" stroke="#222" stroke-width="0.6"/>
<line x1="373.2" y1="278.5" x2="374.8" y2="278.5" stroke="#222" stroke-width="0.6"/>
<line x1="373.2" y1="271.5" x2="374.8" y2="271.5" stroke="#222" stroke-width="0.6"/>
<line x1="373.2" y1="258.5" x2="374.8" y2="258.5" stroke="#222" stroke-width="0.6"/>
<line x1="373.2" y1="251.5" x2="374.8" y2="251.5" stroke="#222" stroke-width="0.6"/>
<line x1="373.2" y1="245.5" x2="374.8" y2="245.5" stroke="#222" stroke-width="0.6"/>
<text x="375.6" y="382.3" font-size="7.2" fill="#2a2a2a">−10<tspan font-size="5" dy="-2.6">3</tspan></text>
<text x="408.0" y="382.3" font-size="7.2" text-anchor="middle" fill="#2a2a2a" font-weight="normal" >0</text>
<text x="423.8" y="382.3" font-size="7.2" fill="#2a2a2a">10<tspan font-size="5" dy="-2.6">3</tspan></text>
<text x="461.3" y="382.3" font-size="7.2" fill="#2a2a2a">10<tspan font-size="5" dy="-2.6">4</tspan></text>
<text x="494.8" y="382.3" font-size="7.2" fill="#2a2a2a">10<tspan font-size="5" dy="-2.6">5</tspan></text>
<line x1="388.5" y1="370" x2="388.5" y2="372.6" stroke="#222" stroke-width="0.8"/>
<line x1="408.5" y1="370" x2="408.5" y2="372.6" stroke="#222" stroke-width="0.8"/>
<line x1="427.5" y1="370" x2="427.5" y2="372.6" stroke="#222" stroke-width="0.8"/>
<line x1="460.5" y1="370" x2="460.5" y2="372.6" stroke="#222" stroke-width="0.8"/>
<line x1="494.5" y1="370" x2="494.5" y2="372.6" stroke="#222" stroke-width="0.8"/>
<line x1="410.5" y1="370" x2="410.5" y2="371.5" stroke="#333" stroke-width="0.5"/>
<line x1="413.5" y1="370" x2="413.5" y2="371.5" stroke="#333" stroke-width="0.5"/>
<line x1="415.5" y1="370" x2="415.5" y2="371.5" stroke="#333" stroke-width="0.5"/>
<line x1="417.5" y1="370" x2="417.5" y2="371.5" stroke="#333" stroke-width="0.5"/>
<line x1="419.5" y1="370" x2="419.5" y2="371.5" stroke="#333" stroke-width="0.5"/>
<line x1="421.5" y1="370" x2="421.5" y2="371.5" stroke="#333" stroke-width="0.5"/>
<line x1="423.5" y1="370" x2="423.5" y2="371.5" stroke="#333" stroke-width="0.5"/>
<line x1="424.5" y1="370" x2="424.5" y2="371.5" stroke="#333" stroke-width="0.5"/>
<line x1="426.5" y1="370" x2="426.5" y2="371.5" stroke="#333" stroke-width="0.5"/>
<line x1="427.5" y1="370" x2="427.5" y2="371.5" stroke="#333" stroke-width="0.5"/>
<line x1="437.5" y1="370" x2="437.5" y2="371.5" stroke="#333" stroke-width="0.5"/>
<line x1="443.5" y1="370" x2="443.5" y2="371.5" stroke="#333" stroke-width="0.5"/>
<line x1="447.5" y1="370" x2="447.5" y2="371.5" stroke="#333" stroke-width="0.5"/>
<line x1="450.5" y1="370" x2="450.5" y2="371.5" stroke="#333" stroke-width="0.5"/>
<line x1="453.5" y1="370" x2="453.5" y2="371.5" stroke="#333" stroke-width="0.5"/>
<line x1="455.5" y1="370" x2="455.5" y2="371.5" stroke="#333" stroke-width="0.5"/>
<line x1="457.5" y1="370" x2="457.5" y2="371.5" stroke="#333" stroke-width="0.5"/>
<line x1="459.5" y1="370" x2="459.5" y2="371.5" stroke="#333" stroke-width="0.5"/>
<line x1="460.5" y1="370" x2="460.5" y2="371.5" stroke="#333" stroke-width="0.5"/>
<line x1="470.5" y1="370" x2="470.5" y2="371.5" stroke="#333" stroke-width="0.5"/>
<line x1="476.5" y1="370" x2="476.5" y2="371.5" stroke="#333" stroke-width="0.5"/>
<line x1="481.5" y1="370" x2="481.5" y2="371.5" stroke="#333" stroke-width="0.5"/>
<line x1="484.5" y1="370" x2="484.5" y2="371.5" stroke="#333" stroke-width="0.5"/>
<line x1="487.5" y1="370" x2="487.5" y2="371.5" stroke="#333" stroke-width="0.5"/>
<line x1="489.5" y1="370" x2="489.5" y2="371.5" stroke="#333" stroke-width="0.5"/>
<line x1="491.5" y1="370" x2="491.5" y2="371.5" stroke="#333" stroke-width="0.5"/>
<line x1="493.5" y1="370" x2="493.5" y2="371.5" stroke="#333" stroke-width="0.5"/>
<line x1="405.5" y1="370" x2="405.5" y2="371.5" stroke="#333" stroke-width="0.5"/>
<line x1="402.5" y1="370" x2="402.5" y2="371.5" stroke="#333" stroke-width="0.5"/>
<line x1="400.5" y1="370" x2="400.5" y2="371.5" stroke="#333" stroke-width="0.5"/>
<line x1="398.5" y1="370" x2="398.5" y2="371.5" stroke="#333" stroke-width="0.5"/>
<line x1="396.5" y1="370" x2="396.5" y2="371.5" stroke="#333" stroke-width="0.5"/>
<line x1="394.5" y1="370" x2="394.5" y2="371.5" stroke="#333" stroke-width="0.5"/>
<line x1="392.5" y1="370" x2="392.5" y2="371.5" stroke="#333" stroke-width="0.5"/>
<line x1="391.5" y1="370" x2="391.5" y2="371.5" stroke="#333" stroke-width="0.5"/>
<line x1="389.5" y1="370" x2="389.5" y2="371.5" stroke="#333" stroke-width="0.5"/>
<line x1="388.5" y1="370" x2="388.5" y2="371.5" stroke="#333" stroke-width="0.5"/>
<text transform="translate(14.2,301.2) rotate(-90)" class="yl" font-size="8.4" text-anchor="middle" fill="#2a2a2a" textLength="56.2" lengthAdjust="spacingAndGlyphs">Normalized to mode</text>
<line x1="40" y1="393.5" x2="257.5" y2="393.5" stroke="#333" stroke-width="1.5"/>
<line x1="295.5" y1="393.5" x2="513.3" y2="393.5" stroke="#333" stroke-width="1.5"/>
<text x="276.5" y="396.2" font-size="9.8" text-anchor="middle" fill="#2a2a2a" font-weight="normal" class="yl" textLength="14.8" lengthAdjust="spacingAndGlyphs">CD69</text>
<path d="M160.50 403.20L162.50 405.20L160.50 407.20L158.50 405.20Z" fill="#fff" stroke="#b31a44" stroke-width="1.3"/>
<text x="165.1" y="407.8" font-size="7.6" text-anchor="start" fill="#2a2a2a" font-weight="normal" textLength="42.5" lengthAdjust="spacingAndGlyphs">Keratinocytes</text>
<path d="M218.00 403.20L220.00 405.20L218.00 407.20L216.00 405.20Z" fill="#fff" stroke="#23528c" stroke-width="1.3"/>
<text x="222.6" y="407.8" font-size="7.6" text-anchor="start" fill="#2a2a2a" font-weight="normal" textLength="13" lengthAdjust="spacingAndGlyphs">Skin</text>
<path d="M248.00 403.20L250.00 405.20L248.00 407.20L246.00 405.20Z" fill="#fff" stroke="#454d5e" stroke-width="1.3"/>
<text x="252.6" y="407.8" font-size="7.6" text-anchor="start" fill="#2a2a2a" font-weight="normal" textLength="77" lengthAdjust="spacingAndGlyphs">APC+Tcells (no antigen)</text>
<path d="M340.00 403.20L342.00 405.20L340.00 407.20L338.00 405.20Z" fill="#fff" stroke="#389638" stroke-width="1.3"/>
<text x="344.6" y="407.8" font-size="7.6" text-anchor="start" fill="#2a2a2a" font-weight="normal" textLength="49.7" lengthAdjust="spacingAndGlyphs">T cells + Beads</text>
<path d="M85.20 370.00C85.42 366.67 86.07 357.50 86.50 350.00C86.93 342.50 87.38 331.33 87.80 325.00C88.22 318.67 88.58 314.53 89.00 312.00C89.42 309.47 89.87 309.88 90.30 309.80C90.73 309.72 91.15 310.38 91.60 311.50C92.05 312.62 92.52 314.17 93.00 316.50C93.48 318.83 94.00 322.33 94.50 325.50C95.00 328.67 95.50 332.08 96.00 335.50C96.50 338.92 97.00 342.58 97.50 346.00C98.00 349.42 98.53 352.92 99.00 356.00C99.47 359.08 99.87 362.17 100.30 364.50C100.73 366.83 101.38 369.08 101.60 370.00Z" fill="#9a98aa" stroke="#4a4f60" stroke-width="0.6"/>
<path d="M84.60 370.00C85.05 360.50 86.55 324.32 87.30 313.00C88.05 301.68 88.52 303.37 89.10 302.10C89.68 300.83 90.25 303.18 90.80 305.40C91.35 307.62 91.77 311.88 92.40 315.40C93.03 318.92 93.50 322.45 94.60 326.50C95.70 330.55 97.53 336.02 99.00 339.70C100.47 343.38 101.92 345.47 103.40 348.60C104.88 351.73 106.42 356.67 107.90 358.50C109.38 360.33 110.83 359.03 112.30 359.60C113.77 360.17 115.23 360.42 116.70 361.90C118.17 363.38 119.80 367.15 121.10 368.50C122.40 369.85 123.93 369.75 124.50 370.00" fill="none" stroke="#389638" stroke-width="1.25" stroke-linejoin="round"/>
<path d="M85.10 369.60C85.47 362.00 86.63 337.47 87.30 324.00C87.97 310.53 88.58 295.58 89.10 288.80C89.62 282.02 89.97 282.55 90.40 283.30C90.83 284.05 91.27 287.95 91.70 293.30C92.13 298.65 92.52 309.13 93.00 315.40C93.48 321.67 93.78 326.47 94.60 330.90C95.42 335.33 96.80 339.42 97.90 342.00C99.00 344.58 100.10 344.57 101.20 346.40C102.30 348.23 103.20 350.42 104.50 353.00C105.80 355.58 107.33 359.50 109.00 361.90C110.67 364.30 112.67 366.05 114.50 367.40C116.33 368.75 119.08 369.57 120.00 370.00" fill="none" stroke="#23528c" stroke-width="1.25" stroke-linejoin="round"/>
<path d="M86.60 370.00C86.90 363.00 87.85 337.13 88.40 328.00C88.95 318.87 89.38 316.77 89.90 315.20C90.42 313.63 90.90 315.98 91.50 318.60C92.10 321.22 92.80 326.27 93.50 330.90C94.20 335.53 94.97 342.17 95.70 346.40C96.43 350.63 97.17 354.28 97.90 356.30C98.63 358.32 99.37 358.32 100.10 358.50C100.83 358.68 101.37 357.02 102.30 357.40C103.23 357.78 104.40 359.87 105.70 360.80C107.00 361.73 108.27 362.08 110.10 363.00C111.93 363.92 114.68 365.38 116.70 366.30C118.72 367.22 120.48 367.88 122.20 368.50C123.92 369.12 126.20 369.75 127.00 370.00" fill="none" stroke="#b31a44" stroke-width="1.25" stroke-linejoin="round"/>
<path d="M251.30 370.00C251.67 368.33 252.83 363.02 253.50 360.00C254.17 356.98 254.47 353.85 255.30 351.90C256.13 349.95 257.63 349.70 258.50 348.30C259.37 346.90 259.92 344.90 260.50 343.50C261.08 342.10 261.50 339.90 262.00 339.90C262.50 339.90 263.05 342.10 263.50 343.50C263.95 344.90 264.05 345.42 264.70 348.30C265.35 351.18 266.67 357.18 267.40 360.80C268.13 364.42 268.82 368.47 269.10 370.00Z" fill="#9a98aa" stroke="#4a4f60" stroke-width="0.6"/>
<path d="M252.20 369.60C252.57 360.20 253.77 326.30 254.40 313.20C255.03 300.10 255.48 295.87 256.00 291.00C256.52 286.13 256.95 284.37 257.50 284.00C258.05 283.63 258.72 285.05 259.30 288.80C259.88 292.55 260.33 300.60 261.00 306.50C261.67 312.40 262.48 319.03 263.30 324.20C264.12 329.37 264.92 333.43 265.90 337.50C266.88 341.57 268.10 345.28 269.20 348.60C270.30 351.92 271.38 354.63 272.50 357.40C273.62 360.17 274.78 363.10 275.90 365.20C277.02 367.30 278.65 369.20 279.20 370.00" fill="none" stroke="#389638" stroke-width="1.25" stroke-linejoin="round"/>
<path d="M252.60 370.00C252.97 363.12 254.05 338.90 254.80 328.70C255.55 318.50 256.43 311.57 257.10 308.80C257.77 306.03 258.07 309.53 258.80 312.10C259.53 314.67 260.50 319.60 261.50 324.20C262.50 328.80 263.70 334.90 264.80 339.70C265.90 344.50 267.10 349.12 268.10 353.00C269.10 356.88 269.87 361.23 270.80 363.00C271.73 364.77 272.67 363.50 273.70 363.60C274.73 363.70 276.08 363.15 277.00 363.60C277.92 364.05 278.47 365.23 279.20 366.30C279.93 367.37 281.03 369.38 281.40 370.00" fill="none" stroke="#3d4a63" stroke-width="1.25" stroke-linejoin="round"/>
<path d="M253.40 370.00C253.77 363.48 254.92 340.92 255.60 330.90C256.28 320.88 256.67 311.93 257.50 309.90C258.33 307.87 259.45 315.20 260.60 318.70C261.75 322.20 263.18 326.65 264.40 330.90C265.62 335.15 266.87 339.78 267.90 344.20C268.93 348.62 269.75 353.53 270.60 357.40C271.45 361.27 272.30 365.30 273.00 367.40C273.70 369.50 274.50 369.57 274.80 370.00" fill="none" stroke="#b31a44" stroke-width="1.25" stroke-linejoin="round"/>
<path d="M419.00 370.00C419.42 369.00 420.75 366.33 421.50 364.00C422.25 361.67 422.83 358.67 423.50 356.00C424.17 353.33 424.83 349.92 425.50 348.00C426.17 346.08 426.83 344.33 427.50 344.50C428.17 344.67 428.75 346.83 429.50 349.00C430.25 351.17 431.08 355.08 432.00 357.50C432.92 359.92 433.92 361.95 435.00 363.50C436.08 365.05 437.33 365.72 438.50 366.80C439.67 367.88 441.42 369.47 442.00 370.00Z" fill="#9a98aa" stroke="#4a4f60" stroke-width="0.6"/>
<path d="M419.80 369.70C420.23 365.42 421.70 350.67 422.40 344.00C423.10 337.33 423.53 332.73 424.00 329.70C424.47 326.67 424.72 325.92 425.20 325.80C425.68 325.68 426.07 327.27 426.90 329.00C427.73 330.73 429.12 333.82 430.20 336.20C431.28 338.58 432.32 341.03 433.40 343.30C434.48 345.57 435.62 348.07 436.70 349.80C437.78 351.53 438.82 352.07 439.90 353.70C440.98 355.33 442.12 357.75 443.20 359.60C444.28 361.45 445.32 363.30 446.40 364.80C447.48 366.30 448.83 367.78 449.70 368.60C450.57 369.42 451.28 369.52 451.60 369.70" fill="none" stroke="#389638" stroke-width="1.25" stroke-linejoin="round"/>
<path d="M422.50 370.00C422.70 368.48 423.20 365.23 423.70 360.90C424.20 356.57 424.97 347.68 425.50 344.00C426.03 340.32 426.45 339.13 426.90 338.80C427.35 338.47 427.87 340.48 428.20 342.00C428.53 343.52 428.35 344.97 428.90 347.90C429.45 350.83 430.53 356.58 431.50 359.60C432.47 362.62 433.62 364.32 434.70 366.00C435.78 367.68 437.45 369.08 438.00 369.70" fill="none" stroke="#b31a44" stroke-width="1.25" stroke-linejoin="round"/>
<path d="M421.20 370.00C421.60 367.00 422.93 356.42 423.60 352.00C424.27 347.58 424.80 345.25 425.20 343.50C425.60 341.75 425.70 341.58 426.00 341.50C426.30 341.42 426.60 341.92 427.00 343.00C427.40 344.08 427.73 345.83 428.40 348.00C429.07 350.17 430.13 353.67 431.00 356.00C431.87 358.33 432.52 360.27 433.60 362.00C434.68 363.73 436.27 365.27 437.50 366.40C438.73 367.53 440.00 368.20 441.00 368.80C442.00 369.40 443.08 369.80 443.50 370.00" fill="none" stroke="#23528c" stroke-width="1.25" stroke-linejoin="round"/>
<path d="M422.00 370.00C422.43 366.67 423.90 355.00 424.60 350.00C425.30 345.00 425.77 342.07 426.20 340.00C426.63 337.93 426.85 337.60 427.20 337.60C427.55 337.60 427.90 338.60 428.30 340.00C428.70 341.40 428.98 343.58 429.60 346.00C430.22 348.42 431.17 352.00 432.00 354.50C432.83 357.00 433.55 359.15 434.60 361.00C435.65 362.85 437.07 364.38 438.30 365.60C439.53 366.82 440.88 367.57 442.00 368.30C443.12 369.03 444.50 369.72 445.00 370.00" fill="none" stroke="#3d4a63" stroke-width="1.25" stroke-linejoin="round"/>
<path d="M417.20 369.70C417.52 367.58 418.45 361.28 419.10 357.00C419.75 352.72 420.45 347.47 421.10 344.00C421.75 340.53 422.47 337.72 423.00 336.20C423.53 334.68 423.80 334.68 424.30 334.90C424.80 335.12 425.45 335.98 426.00 337.50C426.55 339.02 427.12 341.83 427.60 344.00C428.08 346.17 428.37 348.33 428.90 350.50C429.43 352.67 430.05 354.95 430.80 357.00C431.55 359.05 432.42 361.30 433.40 362.80C434.38 364.30 435.72 365.57 436.70 366.00C437.68 366.43 438.33 365.72 439.30 365.40C440.27 365.08 441.42 364.20 442.50 364.10C443.58 364.00 444.82 364.15 445.80 364.80C446.78 365.45 447.53 367.18 448.40 368.00C449.27 368.82 450.57 369.42 451.00 369.70" fill="none" stroke="#b31a44" stroke-width="1.25" stroke-linejoin="round"/>
</svg></body></html>
